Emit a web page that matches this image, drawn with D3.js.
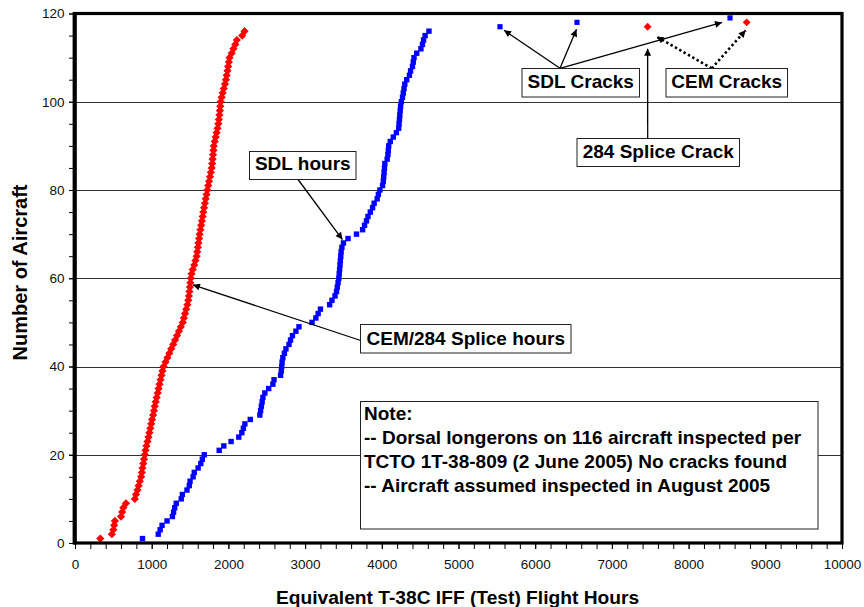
<!DOCTYPE html>
<html>
<head>
<meta charset="utf-8">
<script src="https://cdn.jsdelivr.net/npm/d3@7"></script>
<style>
  body { margin: 0; background: #fff; }
  svg { font-family: "Liberation Sans", Arial, sans-serif; display: block; }
</style>
</head>
<body>
<div id="chart"></div>
<script>
// CEM / 284 splice hours, aircraft 1..116 (sorted)
const cemHours = [
  330, 480, 500, 510, 520, 600, 615, 630, 665, 780,
  795, 815, 830, 845, 862, 872, 880, 890, 900, 910,
  920, 932, 945, 958, 970, 982, 994, 1005, 1018, 1030,
  1040, 1052, 1065, 1078, 1090, 1102, 1115, 1128, 1140, 1155,
  1180, 1205, 1230, 1255, 1280, 1305, 1330, 1355, 1380, 1405,
  1420, 1435, 1450, 1465, 1477, 1485, 1492, 1498, 1504, 1510,
  1520, 1535, 1555, 1570, 1586, 1594, 1602, 1610, 1618, 1625,
  1635, 1645, 1655, 1664, 1673, 1683, 1694, 1704, 1715, 1725,
  1737, 1748, 1760, 1771, 1782, 1788, 1794, 1800, 1805, 1810,
  1822, 1834, 1846, 1858, 1869, 1876, 1883, 1889, 1895, 1900,
  1912, 1925, 1940, 1955, 1968, 1978, 1988, 1997, 2006, 2015,
  2043, 2065, 2090, 2110, 2180, 2210
];

// SDL hours, aircraft 1..116 (sorted)
const sdlHours = [
  880, 1085, 1110, 1135, 1200, 1270, 1285, 1300, 1320, 1385,
  1400, 1460, 1490, 1500, 1540, 1555, 1605, 1640, 1660, 1685,
  1880, 1940, 2035, 2135, 2175, 2195, 2215, 2285, 2410, 2420,
  2430, 2440, 2450, 2475, 2525, 2580, 2595, 2680, 2690, 2695,
  2700, 2710, 2730, 2750, 2790, 2810, 2835, 2880, 2920, 3090,
  3140, 3170, 3200, 3320, 3350, 3390, 3410, 3420, 3430, 3440,
  3445, 3450, 3455, 3460, 3465, 3470, 3480, 3500, 3560, 3670,
  3750, 3775, 3800, 3820, 3850, 3880, 3900, 3940, 3955, 3975,
  4010, 4020, 4025, 4030, 4035, 4040, 4070, 4080, 4085, 4090,
  4110, 4150, 4190, 4220, 4225, 4230, 4235, 4240, 4245, 4255,
  4270, 4280, 4290, 4300, 4325, 4360, 4375, 4400, 4410, 4420,
  4455, 4510, 4530, 4545, 4565, 4615
];

const sdlCrackHours = [5541, 6545, 8540];
const sdlCrackCount = [117, 118, 119];
const cemCrackHours = [7466, 8757];
const cemCrackCount = [117, 118];

const xTicks = d3.range(0, 10001, 1000);
const yTicks = d3.range(0, 121, 20);

const noteLines = [
  'Note:',
  '-- Dorsal longerons on 116 aircraft inspected per',
  'TCTO 1T-38-809 (2 June 2005) No cracks found',
  '-- Aircraft assumed inspected in August 2005'
];

const width = 864;
const height = 607;
const plotLeft = 75, plotRight = 842, plotTop = 13.5, plotBottom = 543;

const svg = d3.create('svg')
  .attr('width', width)
  .attr('height', height);

d3.select('#chart').append(() => svg.node());

const xScale = d3.scaleLinear().domain([0, 10000]).range([plotLeft, plotRight]);
const yScale = d3.scaleLinear().domain([0, 120]).range([plotBottom, plotTop]);

// arrow head
svg.append('defs').append('marker')
  .attr('id', 'arrow')
  .attr('viewBox', '0 0 10 10')
  .attr('refX', 10)
  .attr('refY', 5)
  .attr('markerWidth', 9)
  .attr('markerHeight', 7)
  .attr('markerUnits', 'userSpaceOnUse')
  .attr('orient', 'auto')
  .append('path')
  .attr('d', 'M0,0L10,5L0,10Z')
  .attr('fill', '#000');

// gridlines
svg.append('g')
  .selectAll('line')
  .data(yTicks.filter(d => d > 0 && d < 120))
  .join('line')
  .attr('x1', plotLeft)
  .attr('x2', plotRight)
  .attr('y1', d => Math.round(yScale(d)) + 0.5)
  .attr('y2', d => Math.round(yScale(d)) + 0.5)
  .attr('stroke', '#333')
  .attr('stroke-width', 1);

// minor ticks
svg.append('g')
  .attr('transform', `translate(0, ${plotBottom})`)
  .call(d3.axisBottom(xScale).tickValues(d3.range(0, 10001, 200)).tickSize(6).tickFormat(''))
  .call(g => g.select('.domain').remove());

svg.append('g')
  .attr('transform', `translate(${plotLeft}, 0)`)
  .call(d3.axisLeft(yScale).tickValues(d3.range(0, 121, 5)).tickSize(6).tickFormat(''))
  .call(g => g.select('.domain').remove());

// labelled axes
svg.append('g')
  .attr('transform', `translate(0, ${plotBottom})`)
  .call(d3.axisBottom(xScale).tickValues(xTicks).tickFormat(d3.format('d')).tickSize(6).tickPadding(10.5))
  .call(g => g.select('.domain').remove())
  .call(g => g.selectAll('text').attr('font-size', 13.5).attr('fill', '#111'))
  .attr('font-family', null);

svg.append('g')
  .attr('transform', `translate(${plotLeft}, 0)`)
  .call(d3.axisLeft(yScale).tickValues(yTicks).tickFormat(d3.format('d')).tickSize(6).tickPadding(4.5))
  .call(g => g.select('.domain').remove())
  .call(g => g.selectAll('text').attr('font-size', 13.5).attr('fill', '#111'))
  .attr('font-family', null);

svg.selectAll('.tick line').attr('stroke', '#000');

const diamond = r => `M0,${-r}L${r},0L0,${r}L${-r},0Z`;

// CEM/284 series
svg.append('g')
  .selectAll('path')
  .data(cemHours)
  .join('path')
  .attr('transform', (d, i) => `translate(${xScale(d)}, ${yScale(i + 1)})`)
  .attr('d', diamond(4.1))
  .attr('fill', '#ff0000');

// SDL series
svg.append('g')
  .selectAll('rect')
  .data(sdlHours)
  .join('rect')
  .attr('x', d => xScale(d) - 2.7)
  .attr('y', (d, i) => yScale(i + 1) - 2.7)
  .attr('width', 5.4)
  .attr('height', 5.4)
  .attr('fill', '#0000ff');

// crack points
svg.append('g')
  .selectAll('rect')
  .data(sdlCrackHours)
  .join('rect')
  .attr('x', d => xScale(d) - 2.6)
  .attr('y', (d, i) => yScale(sdlCrackCount[i]) - 2.6)
  .attr('width', 5.2)
  .attr('height', 5.2)
  .attr('fill', '#0000ff');

svg.append('g')
  .selectAll('path')
  .data(cemCrackHours)
  .join('path')
  .attr('transform', (d, i) => `translate(${xScale(d)}, ${yScale(cemCrackCount[i])})`)
  .attr('d', diamond(3.9))
  .attr('fill', '#ff0000');

// plot frame
svg.append('rect')
  .attr('x', plotLeft)
  .attr('y', plotTop)
  .attr('width', plotRight - plotLeft)
  .attr('height', plotBottom - plotTop)
  .attr('fill', 'none')
  .attr('stroke', '#000')
  .attr('stroke-width', 3.2);
svg.append('line')
  .attr('x1', plotLeft - 0.4).attr('x2', plotLeft - 0.4)
  .attr('y1', plotTop - 1.6).attr('y2', plotBottom + 1.6)
  .attr('stroke', '#000')
  .attr('stroke-width', 4);

// arrows
function arrow(x1, y1, x2, y2, dotted) {
  svg.append('line')
    .attr('x1', x1).attr('y1', y1)
    .attr('x2', x2).attr('y2', y2)
    .attr('stroke', '#000')
    .attr('stroke-width', dotted ? 2.6 : 1.3)
    .attr('stroke-dasharray', dotted ? '2.4,2.6' : null)
    .attr('marker-end', 'url(#arrow)');
}

arrow(297.7, 179, xScale(3500) - 1, yScale(69) + 1);
arrow(360.7, 340.5, xScale(1550) - 1, yScale(58.5));
arrow(560, 68.3, xScale(5541) + 4, yScale(117) + 3.5);
arrow(560, 68.3, xScale(6545) - 0.5, yScale(118) + 7);
arrow(560, 68.3, xScale(8540) - 8, yScale(119) + 4.5);
arrow(711.7, 68.3, xScale(7466) + 9, yScale(117) + 10, true);
arrow(711.7, 68.3, xScale(8757) - 1, yScale(118) + 8, true);
arrow(647.7, 138.3, xScale(7466), yScale(117) + 22);

// labelled boxes
function labelBox(x0, y0, w, h, text, baseline) {
  svg.append('rect')
    .attr('x', x0 + 0.5).attr('y', y0 + 0.5)
    .attr('width', w).attr('height', h)
    .attr('fill', '#fff')
    .attr('stroke', '#222')
    .attr('stroke-width', 1);
  svg.append('text')
    .attr('x', x0 + w / 2 + 0.5)
    .attr('y', baseline)
    .attr('text-anchor', 'middle')
    .attr('font-size', 19)
    .attr('font-weight', 'bold')
    .text(text);
}

labelBox(249, 151, 106.5, 28, 'SDL hours', 170);
labelBox(360, 324, 210.5, 28.5, 'CEM/284 Splice hours', 344.5);
labelBox(521.5, 68, 117.5, 28.5, 'SDL Cracks', 88);
labelBox(665.5, 68, 121.5, 28.5, 'CEM Cracks', 88);
labelBox(576.5, 138, 162.5, 28, '284 Splice Crack', 158);

// note box
svg.append('rect')
  .attr('x', 360.5).attr('y', 401.5)
  .attr('width', 457.5).attr('height', 127.5)
  .attr('fill', '#fff')
  .attr('stroke', '#222')
  .attr('stroke-width', 1);

svg.append('g')
  .selectAll('text')
  .data(noteLines)
  .join('text')
  .attr('x', 364)
  .attr('y', (d, i) => 420 + i * 23.9)
  .attr('font-size', 19)
  .attr('font-weight', 'bold')
  .text(d => d);

// axis titles
svg.append('text')
  .attr('x', (plotLeft + plotRight) / 2 - 1)
  .attr('y', 604)
  .attr('text-anchor', 'middle')
  .attr('font-size', 19.2)
  .attr('font-weight', 'bold')
  .text('Equivalent T-38C IFF (Test) Flight Hours');

svg.append('text')
  .attr('x', -272.5)
  .attr('y', 26.5)
  .attr('text-anchor', 'middle')
  .attr('transform', 'rotate(-90)')
  .attr('font-size', 20)
  .attr('font-weight', 'bold')
  .text('Number of Aircraft');
</script>
</body>
</html>
